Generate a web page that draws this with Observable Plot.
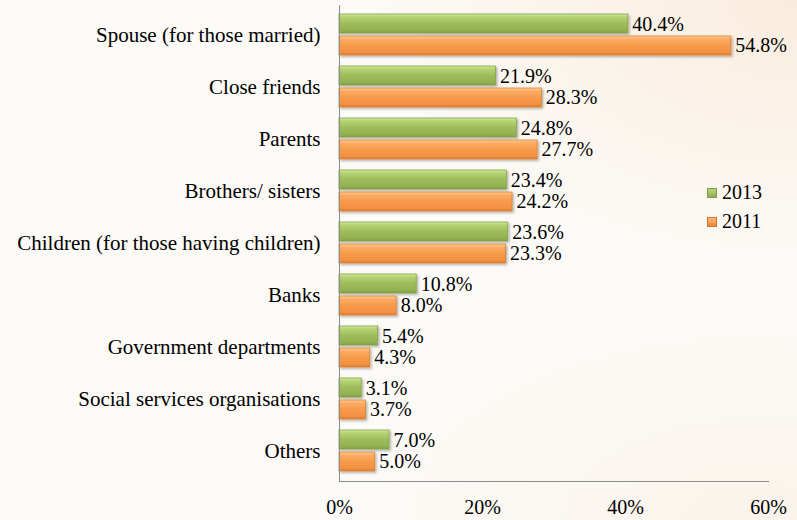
<!DOCTYPE html>
<html><head><meta charset="utf-8">
<script src="https://cdn.jsdelivr.net/npm/d3@7"></script>
<script src="https://cdn.jsdelivr.net/npm/@observablehq/plot@0.6"></script>
<style>
html,body{margin:0;padding:0;}
body{width:797px;height:520px;overflow:hidden;
  background:
    radial-gradient(ellipse 420px 260px at 100% 0%, rgba(249,232,214,0.75), rgba(252,248,242,0) 100%),
    radial-gradient(ellipse 380px 200px at 95% 100%, rgba(249,236,222,0.45), rgba(252,248,242,0) 100%),
    #fcfaf6;}
#wrap{position:relative;width:797px;height:520px;}
#legend{position:absolute;left:707px;top:178px;font-size:20px;line-height:29px;color:#000;}
#legend div{display:flex;align-items:center;}
#legend span.sw{display:inline-block;width:10px;height:10px;margin-right:5px;}
</style></head>
<body style="font-family:'Liberation Serif'"><div id="wrap"><div id="chart"></div><div id="legend" style="font-family:'Liberation Serif'"></div></div>
<script>
const categories = ["Spouse (for those married)","Close friends","Parents","Brothers/ sisters","Children (for those having children)","Banks","Government departments","Social services organisations","Others"];
const v2013 = [40.4,21.9,24.8,23.4,23.6,10.8,5.4,3.1,7.0];
const v2011 = [54.8,28.3,27.7,24.2,23.3,8.0,4.3,3.7,5.0];
const years = ["2013","2011"];
const xTicks = [0,20,40,60];

const d13 = categories.map((c,i)=>({category:c, value:v2013[i], year:years[0]}));
const d11 = categories.map((c,i)=>({category:c, value:v2011[i], year:years[1]}));

const defs = () => {
  const g = d3.create("svg:defs");
  const mk = (id, stops) => {
    const lg = g.append("linearGradient").attr("id", id).attr("x1",0).attr("y1",0).attr("x2",0).attr("y2",1);
    stops.forEach(([o,c]) => lg.append("stop").attr("offset", o).attr("stop-color", c));
  };
  mk("gGreen", [[0,"#d2ea98"],[0.18,"#b3d173"],[0.5,"#9dbd5c"],[0.85,"#93b352"],[1,"#7f9d43"]]);
  mk("gOrange", [[0,"#ffcb94"],[0.18,"#fdab62"],[0.5,"#f89a4c"],[0.85,"#f39042"],[1,"#d97c33"]]);
  const f = g.append("filter").attr("id","shadow").attr("x","-5%").attr("y","-20%").attr("width","115%").attr("height","160%");
  f.append("feDropShadow").attr("dx",1.5).attr("dy",1.5).attr("stdDeviation",1.2).attr("flood-color","#000").attr("flood-opacity",0.3);
  return g.node();
};

const fmt = d => d.toFixed(1) + "%";
const FF = "Liberation Serif";

const chart = Plot.plot({
  width: 797,
  height: 520,
  marginLeft: 339,
  marginRight: 29,
  marginTop: 5,
  marginBottom: 39,
  style: {background: "transparent", color: "#000", overflow: "visible"},
  x: {domain: [0, 60]},
  y: {domain: categories, padding: 0},
  marks: [
    defs,
    Plot.barX(d13, {x: "value", y: "category", insetTop: 5, insetBottom: 28, fill: "url(#gGreen)", stroke: "#86a448", strokeWidth: 0.8}),
    Plot.barX(d11, {x: "value", y: "category", insetTop: 27, insetBottom: 6, fill: "url(#gOrange)", stroke: "#d98234", strokeWidth: 0.8}),
    Plot.text(d13, {x: "value", y: "category", text: d => fmt(d.value), dx: 4, dy: -10.5, textAnchor: "start", fontSize: 20, fill: "#000"}),
    Plot.text(d11, {x: "value", y: "category", text: d => fmt(d.value), dx: 4, dy: 10.5, textAnchor: "start", fontSize: 20, fill: "#000"}),
    Plot.axisY({tickSize: 0, tickPadding: 19, fontSize: 21, label: null}),
    Plot.axisX({ticks: xTicks, tickFormat: d => d + "%", tickSize: 0, tickPadding: 18, fontSize: 20, label: null}),
    Plot.ruleX([0], {stroke: "#8c8c8c", strokeWidth: 1}),
    Plot.frame({anchor: "bottom", stroke: "#8c8c8c", strokeWidth: 1})
  ]
});
chart.setAttribute("font-family", FF);
d3.select(chart).selectAll("text").attr("font-family", FF);
document.getElementById("chart").appendChild(chart);
d3.select(chart).selectAll("g[aria-label='bar']").attr("filter","url(#shadow)");

const legend = d3.select("#legend");
const swatches = ["linear-gradient(#b8d67a,#8fae4f)","linear-gradient(#ffb877,#ea8a3c)"];
const swBorder = ["#7f9d43","#d07a30"];
years.forEach((y,i) => {
  const row = legend.append("div");
  row.append("span").attr("class","sw").style("background", swatches[i]).style("border", "1px solid " + swBorder[i]).style("box-sizing","border-box");
  row.append("span").text(y);
});
</script>
</body></html>
